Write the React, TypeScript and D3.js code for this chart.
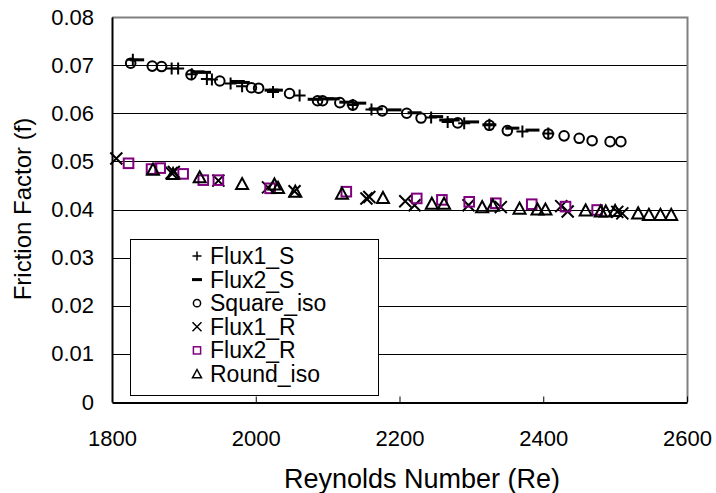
import React, { useEffect, useRef } from "react";
import * as d3 from "d3";

// Flux1_S (+)
const flux1SRe = [1829, 1883, 1892, 1911, 1932, 1939, 1965, 1981, 2024, 2061, 2135, 2161, 2244, 2267, 2290, 2325, 2371, 2407];
const flux1SF = [0.0711, 0.0693, 0.0693, 0.0681, 0.0671, 0.067, 0.0662, 0.0656, 0.0644, 0.0637, 0.0617, 0.0608, 0.0591, 0.0582, 0.0579, 0.0576, 0.0562, 0.0558];

// Flux2_S (-)
const flux2SRe = [1835, 1919, 1928, 1975, 1982, 2022, 2028, 2082, 2099, 2107, 2126, 2144, 2167, 2193, 2221, 2251, 2265, 2274, 2301, 2325, 2357, 2385];
const flux2SF = [0.0711, 0.0686, 0.0685, 0.0666, 0.0664, 0.0648, 0.0648, 0.0629, 0.063, 0.063, 0.0623, 0.0621, 0.0609, 0.0607, 0.0601, 0.0593, 0.0586, 0.0586, 0.0582, 0.0576, 0.0569, 0.0565];

// Square_iso (o)
const squareIsoRe = [1826, 1856, 1869, 1910, 1950, 1994, 2004, 2047, 2086, 2093, 2117, 2135, 2176, 2210, 2230, 2281, 2325, 2350, 2407, 2429, 2450, 2468, 2493, 2508];
const squareIsoF = [0.0704, 0.0698, 0.0697, 0.068, 0.0667, 0.0653, 0.0652, 0.0641, 0.0626, 0.0626, 0.0622, 0.0617, 0.0605, 0.06, 0.059, 0.058, 0.0575, 0.0564, 0.0557, 0.0553, 0.0548, 0.0543, 0.0541, 0.0541];

// Flux1_R (x)
const flux1RRe = [1806, 1883, 1886, 1948, 2017, 2054, 2154, 2158, 2208, 2221, 2296, 2341, 2425, 2434, 2503, 2510];
const flux1RF = [0.0506, 0.0476, 0.0478, 0.046, 0.0446, 0.0438, 0.0423, 0.0426, 0.0417, 0.0409, 0.0409, 0.0405, 0.0407, 0.0396, 0.0395, 0.0392];

// Flux2_R (square)
const flux2RRe = [1823, 1855, 1867, 1899, 1927, 1948, 2020, 2126, 2224, 2259, 2297, 2334, 2384, 2431, 2475];
const flux2RF = [0.0496, 0.0484, 0.0486, 0.0474, 0.0461, 0.0461, 0.0444, 0.0437, 0.0423, 0.042, 0.0416, 0.0413, 0.0411, 0.0406, 0.0399];

// Round_iso (triangle)
const roundIsoRe = [1857, 1885, 1922, 1981, 2026, 2031, 2055, 2120, 2177, 2245, 2262, 2315, 2330, 2367, 2392, 2403, 2459, 2480, 2487, 2500, 2532, 2547, 2563, 2578];
const roundIsoF = [0.0483, 0.0474, 0.0467, 0.0453, 0.0452, 0.0445, 0.0437, 0.0433, 0.0424, 0.0412, 0.0412, 0.0405, 0.0408, 0.0402, 0.04, 0.04, 0.0398, 0.0396, 0.0396, 0.0397, 0.0392, 0.0389, 0.0389, 0.0389];

const xTicks = [1800, 2000, 2200, 2400, 2600];
const yTicks = [0, 0.01, 0.02, 0.03, 0.04, 0.05, 0.06, 0.07, 0.08];

const FONT = "'Liberation Sans', Arial, sans-serif";

type Shape = "plus" | "dash" | "circle" | "cross" | "square" | "triangle";

const seriesList: { name: string; re: number[]; f: number[]; shape: Shape; color: string }[] = [
  { name: "Flux1_S", re: flux1SRe, f: flux1SF, shape: "plus", color: "#000" },
  { name: "Flux2_S", re: flux2SRe, f: flux2SF, shape: "dash", color: "#000" },
  { name: "Square_iso", re: squareIsoRe, f: squareIsoF, shape: "circle", color: "#000" },
  { name: "Flux1_R", re: flux1RRe, f: flux1RF, shape: "cross", color: "#000" },
  { name: "Flux2_R", re: flux2RRe, f: flux2RF, shape: "square", color: "#800080" },
  { name: "Round_iso", re: roundIsoRe, f: roundIsoF, shape: "triangle", color: "#000" },
];

// draws one marker centred at (0,0) into g; s = half size
function drawMarker(g: any, shape: Shape, color: string, s: number, sw: number) {
  if (shape === "plus") {
    g.append("path").attr("d", `M${-s},0H${s}M0,${-s}V${s}`).attr("stroke", color).attr("stroke-width", sw).attr("fill", "none");
  } else if (shape === "dash") {
    g.append("rect").attr("x", -s).attr("y", -1.5).attr("width", 2 * s).attr("height", 3).attr("fill", color);
  } else if (shape === "circle") {
    g.append("circle").attr("r", s * 0.8).attr("stroke", color).attr("stroke-width", sw).attr("fill", "none");
  } else if (shape === "cross") {
    g.append("path").attr("d", `M${-s},${-s}L${s},${s}M${-s},${s}L${s},${-s}`).attr("stroke", color).attr("stroke-width", sw).attr("fill", "none");
  } else if (shape === "square") {
    const h = s * 0.8;
    g.append("rect").attr("x", -h).attr("y", -h).attr("width", 2 * h).attr("height", 2 * h).attr("stroke", color).attr("stroke-width", sw).attr("fill", "none");
  } else {
    g.append("path").attr("d", `M0,${-s}L${s},${s * 0.85}L${-s},${s * 0.85}Z`).attr("stroke", color).attr("stroke-width", sw).attr("fill", "none");
  }
}

const App = () => {
  const svgRef = useRef<SVGSVGElement>(null);

  useEffect(() => {
    const svg = d3.select(svgRef.current);
    svg.selectAll("*").remove();

    const plot = { left: 112, right: 687, top: 17, bottom: 402 };

    const xScale = d3.scaleLinear().domain([1800, 2600]).range([plot.left, plot.right]);
    const yScale = d3.scaleLinear().domain([0, 0.08]).range([plot.bottom, plot.top]);

    // gridlines
    svg
      .append("g")
      .selectAll("line")
      .data(yTicks.slice(1, -1))
      .join("line")
      .attr("x1", plot.left)
      .attr("x2", plot.right)
      .attr("y1", (d) => Math.round(yScale(d)) + 0.5)
      .attr("y2", (d) => Math.round(yScale(d)) + 0.5)
      .attr("stroke", "#000")
      .attr("stroke-width", 1);

    // plot border (grey top / right)
    svg
      .append("path")
      .attr("d", `M${plot.left},${plot.top + 0.5}H${plot.right + 0.5}V${plot.bottom}`)
      .attr("stroke", "#808080")
      .attr("stroke-width", 2)
      .attr("fill", "none");

    // x axis with inside ticks
    const xAxis = svg
      .append("g")
      .attr("transform", `translate(0,${plot.bottom + 0.5})`)
      .call(d3.axisBottom(xScale).tickValues(xTicks).tickSizeInner(-6).tickSizeOuter(0).tickPadding(43).tickFormat(d3.format("d")));
    xAxis.select(".domain").attr("stroke", "#000").attr("stroke-width", 2);
    xAxis.selectAll(".tick line").attr("stroke", "#000");
    xAxis.selectAll("text").attr("font-family", FONT).attr("font-size", 22).attr("fill", "#000").attr("dy", "0");

    // y axis
    const yAxis = svg
      .append("g")
      .attr("transform", `translate(${plot.left},0)`)
      .call(d3.axisLeft(yScale).tickValues(yTicks).tickSize(0).tickPadding(18).tickFormat((d: any) => (d === 0 ? "0" : d3.format(".2f")(d))));
    yAxis.select(".domain").attr("stroke", "#000").attr("stroke-width", 2);
    yAxis.selectAll("text").attr("font-family", FONT).attr("font-size", 22).attr("fill", "#000");

    // markers
    seriesList.forEach((s) => {
      s.re.forEach((re, i) => {
        const g = svg.append("g").attr("transform", `translate(${xScale(re)},${yScale(s.f[i])})`);
        drawMarker(g, s.shape, s.color, s.shape === "dash" ? 7 : 6, 2);
      });
    });

    // legend
    const lg = svg.append("g");
    lg.append("rect")
      .attr("x", 130.5)
      .attr("y", 239.5)
      .attr("width", 248)
      .attr("height", 156)
      .attr("fill", "#fff")
      .attr("stroke", "#000")
      .attr("stroke-width", 1);
    seriesList.forEach((s, i) => {
      const cy = 256 + i * 23.6;
      const g = lg.append("g").attr("transform", `translate(197,${cy})`);
      drawMarker(g, s.shape, s.color, s.shape === "dash" ? 5 : 4.5, 1.5);
      lg.append("text")
        .attr("x", 210)
        .attr("y", cy + 8)
        .attr("font-family", FONT)
        .attr("font-size", 23)
        .attr("fill", "#000")
        .text(s.name);
    });

    // axis titles
    svg
      .append("text")
      .attr("transform", `translate(31,209) rotate(-90)`)
      .attr("text-anchor", "middle")
      .attr("font-family", FONT)
      .attr("font-size", 24)
      .text("Friction Factor (f)");
    svg
      .append("text")
      .attr("x", 422)
      .attr("y", 488)
      .attr("text-anchor", "middle")
      .attr("font-family", FONT)
      .attr("font-size", 27)
      .text("Reynolds Number (Re)");
  }, []);

  return (
    <svg
      ref={svgRef}
      width={716}
      height={493}
      style={{ position: "absolute", left: 0, top: 0, background: "#fff" }}
    ></svg>
  );
};

export default App;
